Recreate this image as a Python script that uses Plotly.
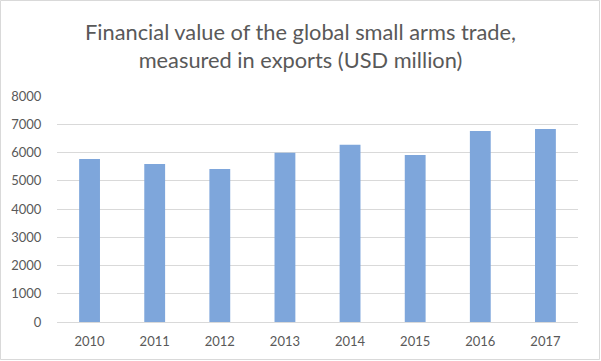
import plotly.graph_objects as go

years = ["2010", "2011", "2012", "2013", "2014", "2015", "2016", "2017"]
exports = [5770, 5590, 5420, 5990, 6270, 5910, 6760, 6830]
y_ticks = [0, 1000, 2000, 3000, 4000, 5000, 6000, 7000, 8000]

W, H = 601, 361
ml, mr, mt, mb = 57, 23, 96, 39
pw, ph = W - ml - mr, H - mt - mb

fig = go.Figure(go.Bar(x=years, y=exports, marker_color="#7EA6DB", marker_line_width=0))

fig.update_layout(
    width=W, height=H,
    margin=dict(l=ml, r=mr, t=mt, b=mb, autoexpand=False),
    paper_bgcolor="white", plot_bgcolor="white",
    bargap=0.68,
    showlegend=False,
    font=dict(family="Lato, 'Open Sans', sans-serif", color="#595959", size=13),
    title=dict(
        text="Financial value of the global small arms trade,<br>measured in exports (USD million)",
        x=0.5, xanchor="center", y=1 - 40 / H, yanchor="middle",
        font=dict(size=21.8, color="#595959", family="Lato, 'Open Sans', sans-serif"),
    ),
    xaxis=dict(showgrid=False, showline=True, linecolor="#d9d9d9", linewidth=1,
               ticks="outside", ticklen=7, tickcolor="rgba(0,0,0,0)",
               tickfont=dict(size=13, color="#595959"), automargin=False),
    yaxis=dict(range=[0, 8000], tickvals=y_ticks, showgrid=True, gridcolor="#d9d9d9",
               gridwidth=1, zeroline=False, ticks="outside", ticklen=12,
               tickcolor="rgba(0,0,0,0)", automargin=False,
               tickfont=dict(size=13, color="#595959"), showline=False),
    shapes=[dict(type="rect", xref="paper", yref="paper",
                 x0=(0.5 - ml) / pw, x1=(W - 1.5 - ml) / pw,
                 y0=-(mb - 1.5) / ph, y1=(H - mb - 0.5) / ph,
                 line=dict(color="#d9d9d9", width=1), layer="below")],
)

fig.write_html("out.html", config={"displayModeBar": False},
               post_script="document.body.style.margin='0';document.body.style.overflow='hidden';")
